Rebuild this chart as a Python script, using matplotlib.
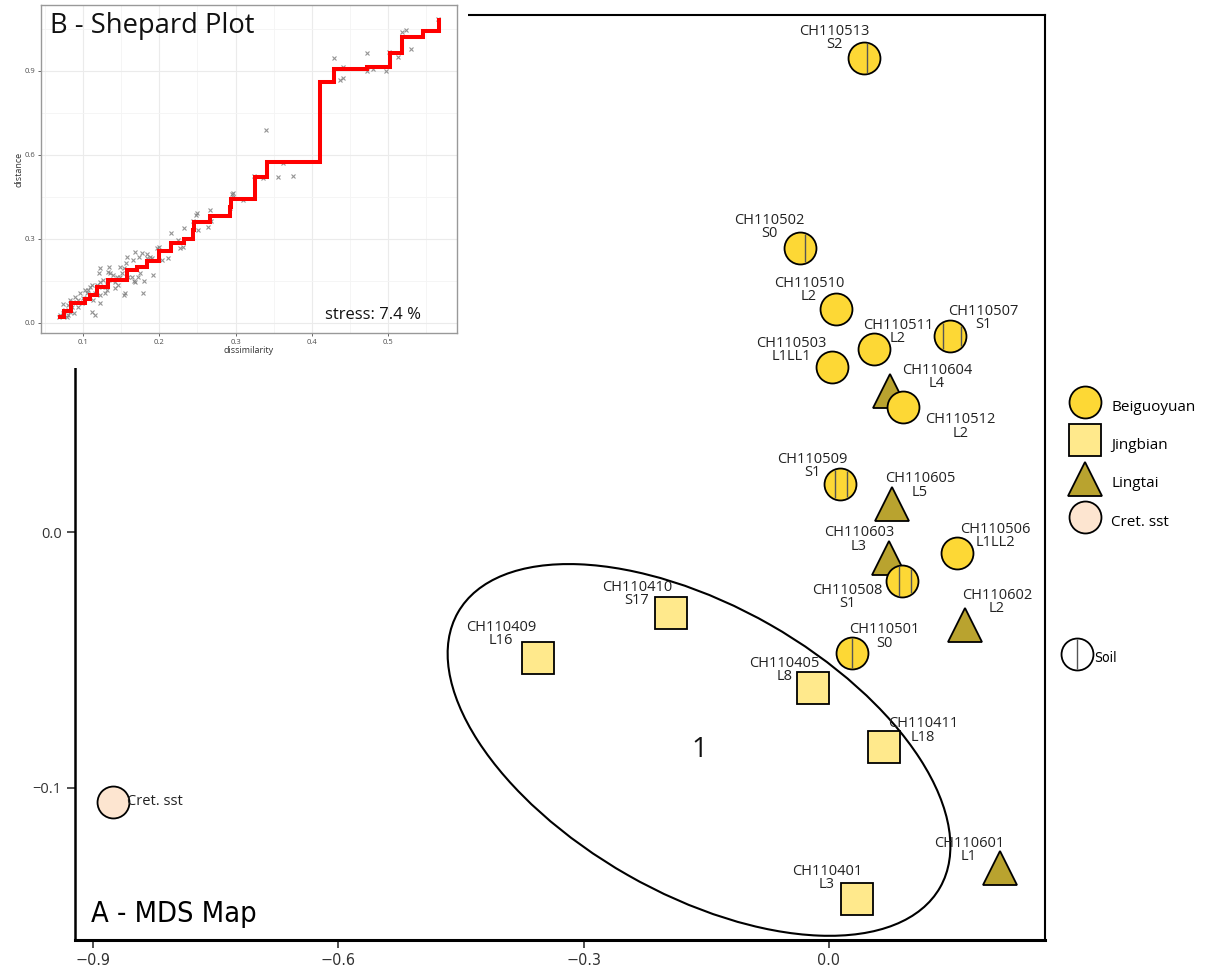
import matplotlib
matplotlib.use("Agg")
import matplotlib.pyplot as plt
from matplotlib import font_manager, transforms
from matplotlib.font_manager import FontProperties
from matplotlib.lines import Line2D
from matplotlib.patches import Ellipse, Rectangle
from matplotlib.legend_handler import HandlerTuple
import numpy as np

# ---- data: MDS map -------------------------------------------------------
sample_ids = ["CH110513", "CH110502", "CH110510", "CH110507", "CH110511", "CH110503",
              "CH110604", "CH110512", "CH110509", "CH110605", "CH110603", "CH110506",
              "CH110508", "CH110602", "CH110501", "CH110405", "CH110410", "CH110409",
              "CH110411", "CH110601", "CH110401", "Cret. sst"]
horizons = ["S2", "S0", "L2", "S1", "L2", "L1LL1",
            "L4", "L2", "S1", "L5", "L3", "L1LL2",
            "S1", "L2", "S0", "L8", "S17", "L16",
            "L18", "L1", "L3", ""]
groups = ["Beiguoyuan", "Beiguoyuan", "Beiguoyuan", "Beiguoyuan", "Beiguoyuan", "Beiguoyuan",
          "Lingtai", "Beiguoyuan", "Beiguoyuan", "Lingtai", "Lingtai", "Beiguoyuan",
          "Beiguoyuan", "Lingtai", "Beiguoyuan", "Jingbian", "Jingbian", "Jingbian",
          "Jingbian", "Lingtai", "Jingbian", "Cret. sst"]
mds1 = [0.0435, -0.035, 0.0092, 0.1488, 0.0557, 0.0039,
        0.0752, 0.0916, 0.0141, 0.0778, 0.0741, 0.157,
        0.0904, 0.1671, 0.0288, -0.0196, -0.1929, -0.356,
        0.068, 0.21, 0.0349, -0.876]
mds2 = [0.1856, 0.1113, 0.0874, 0.0769, 0.0718, 0.0646,
        0.0553, 0.0492, 0.0188, 0.0109, -0.0102, -0.0082,
        -0.019, -0.0363, -0.0474, -0.061, -0.0317, -0.0493,
        -0.0842, -0.1314, -0.1436, -0.1055]
soil = [True, True, False, True, False, False,
        False, False, True, False, False, False,
        True, False, True, False, False, False,
        False, False, False, False]

# ---- data: Shepard plot --------------------------------------------------
step_x = [0.0693, 0.075, 0.0838, 0.1022, 0.1088, 0.1175, 0.1329, 0.157, 0.170, 0.1832,
          0.1999, 0.2152, 0.2328, 0.2446, 0.2459, 0.2665, 0.2928, 0.2941, 0.3256, 0.341,
          0.4111, 0.4299, 0.4724, 0.5031, 0.5193, 0.546, 0.5679]
step_y = [0.021, 0.043, 0.069, 0.085, 0.099, 0.126, 0.152, 0.188, 0.2, 0.221,
          0.257, 0.283, 0.299, 0.33, 0.361, 0.381, 0.414, 0.442, 0.521, 0.575,
          0.861, 0.906, 0.914, 0.962, 1.021, 1.042, 1.081]
dissim = [0.430, 0.4374, 0.4409, 0.4724, 0.4724, 0.481, 0.4978, 0.5022, 0.514, 0.5184,
          0.5241, 0.5302, 0.5666, 0.4418, 0.3397, 0.3366, 0.3563, 0.362, 0.3752, 0.3248,
          0.3094, 0.2963, 0.295, 0.2972, 0.2928, 0.2665, 0.2643, 0.2678, 0.249, 0.2481,
          0.2437, 0.2511, 0.2323, 0.2148, 0.2271, 0.2306, 0.2249, 0.2117, 0.1999, 0.1964,
          0.1911, 0.2030, 0.1898, 0.1832, 0.1767, 0.1797, 0.1789, 0.1745, 0.1679, 0.1670,
          0.1657, 0.1570, 0.1561, 0.1535, 0.1482, 0.1438, 0.1504, 0.1460, 0.1548, 0.1535,
          0.1416, 0.1372, 0.1337, 0.1351, 0.1329, 0.1263, 0.1219, 0.1210, 0.1241, 0.1219,
          0.1285, 0.1307, 0.1153, 0.1110, 0.1131, 0.1219, 0.1066, 0.1044, 0.0956, 0.0934,
          0.0890, 0.0869, 0.0825, 0.0847, 0.0803, 0.0759, 0.0737, 0.0728, 0.0781, 0.0803,
          0.0877, 0.1110, 0.1153, 0.1000, 0.1022, 0.1088, 0.1175, 0.1219, 0.1394, 0.1416,
          0.1591, 0.1635, 0.1679, 0.1723, 0.1736, 0.1832, 0.1876, 0.0693, 0.0680, 0.0934,
          0.0978, 0.1044, 0.1307, 0.1482, 0.0825]
distance = [0.944, 0.867, 0.914, 0.964, 0.9, 0.905, 0.899, 0.968, 0.95, 1.039,
            1.045, 0.976, 1.083, 0.873, 0.688, 0.515, 0.521, 0.569, 0.525, 0.525,
            0.438, 0.464, 0.458, 0.45, 0.408, 0.402, 0.343, 0.364, 0.39, 0.385,
            0.364, 0.331, 0.337, 0.319, 0.265, 0.271, 0.295, 0.23, 0.271, 0.265,
            0.17, 0.224, 0.23, 0.245, 0.248, 0.149, 0.107, 0.176, 0.254, 0.15,
            0.224, 0.236, 0.212, 0.194, 0.2, 0.164, 0.176, 0.135, 0.105, 0.099,
            0.123, 0.152, 0.2, 0.176, 0.182, 0.152, 0.194, 0.176, 0.129, 0.099,
            0.105, 0.117, 0.105, 0.135, 0.081, 0.069, 0.117, 0.087, 0.105, 0.081,
            0.093, 0.075, 0.081, 0.057, 0.063, 0.045, 0.067, 0.033, 0.019, 0.027,
            0.033, 0.039, 0.027, 0.087, 0.117, 0.129, 0.135, 0.146, 0.170, 0.146,
            0.164, 0.164, 0.146, 0.164, 0.236, 0.23, 0.236, 0.027, 0.021, 0.057,
            0.069, 0.105, 0.135, 0.164, 0.039]
stress = 7.4

# ---- styles --------------------------------------------------------------
plt.rcParams["font.family"] = ["Open Sans", "DejaVu Sans"]

# look for a condensed / narrow face, else fall back to Open Sans
cond_file = None
for f in font_manager.fontManager.ttflist:
    nm = f.name.lower()
    narrowish = ("narrow" in nm or "condensed" in nm or
                 str(f.stretch) in ("condensed", "semi-condensed", "extra-condensed"))
    if narrowish and f.style == "normal" and str(f.weight) in ("400", "normal", "regular"):
        cond_file = f.fname
        break


def narrow_font(size):
    if cond_file:
        return FontProperties(fname=cond_file, size=size)
    return FontProperties(family=["Open Sans", "DejaVu Sans"], size=size)


group_style = {
    "Lingtai":    dict(marker="^", ms=24, mfc="#B9A32F"),
    "Jingbian":   dict(marker="s", ms=23, mfc="#FFE98C"),
    "Beiguoyuan": dict(marker="o", ms=23, mfc="#FDD835"),
    "Cret. sst":  dict(marker="o", ms=23, mfc="#FDE5D0"),
}
draw_order = ["Lingtai", "Jingbian", "Beiguoyuan", "Cret. sst"]
legend_order = ["Beiguoyuan", "Jingbian", "Lingtai", "Cret. sst"]

# vertical lines inside soil circles, as fraction of the radius
soil_lines = {"CH110513": [0.17], "CH110502": [0.31], "CH110507": [-0.47, 0.74],
              "CH110509": [-0.31, 0.48], "CH110508": [-0.2, 0.6], "CH110501": [0.0]}
# label offsets in pixels (dx right, dy down)
label_off = [(-30, -20), (-31, -21), (-27, -19), (33, -18), (24, -17), (-40, -17),
             (47, -14), (57, 20), (-28, -18), (28, -19), (-30, -19), (39, -17),
             (-55, 16), (32, -23), (32, -17), (-28, -18), (-34, -19), (-37, -24),
             (39, -17), (-31, -18), (-30, -21), (14, 0)]

W, H = 1208, 974
fig = plt.figure(figsize=(W / 100, H / 100), dpi=100)
ax = fig.add_axes([75 / W, 1 - 940 / H, 970 / W, 925 / H])

mds1 = np.array(mds1)
mds2 = np.array(mds2)
groups = np.array(groups)

for g in draw_order:
    m = groups == g
    st = group_style[g]
    ax.plot(mds1[m], mds2[m], ls="none", marker=st["marker"], ms=st["ms"],
            mfc=st["mfc"], mec="black", mew=1.3, zorder=3)

# soil hatching
for i, sid in enumerate(sample_ids):
    if not soil[i]:
        continue
    r = group_style[groups[i]]["ms"] / 2 - 0.6
    for f in soil_lines[sid]:
        off = transforms.ScaledTranslation(f * r / 72, 0, fig.dpi_scale_trans)
        ax.plot(mds1[i], mds2[i], marker="|", ls="none",
                ms=2 * r * np.sqrt(1 - f ** 2), mec="#555555", mew=1.0,
                transform=ax.transData + off, zorder=4)

# point labels
for i, sid in enumerate(sample_ids):
    dx, dy = label_off[i]
    if horizons[i]:
        ax.annotate(sid + "\n" + horizons[i], (mds1[i], mds2[i]), xytext=(dx, -dy),
                    textcoords="offset pixels", ha="center", va="center",
                    multialignment="center", linespacing=0.85, fontsize=10.5,
                    color="#222222", zorder=5)
    else:
        ax.annotate(sid, (mds1[i], mds2[i]), xytext=(dx, -dy),
                    textcoords="offset pixels", ha="left", va="center",
                    fontsize=10.5, color="#222222", zorder=5)

# cluster ellipse
ex, ey = -0.1586, -0.0852
etrans = fig.dpi_scale_trans + transforms.ScaledTranslation(ex, ey, ax.transData)
ax.add_patch(Ellipse((0, 0), 5.55, 2.88, angle=-29.7, transform=etrans,
                     fill=False, ec="black", lw=1.5, zorder=2))
ax.text(ex, ey, "1", ha="center", va="center", fontsize=20, color="#111111")

title_a = ax.text(0.0165, 0.0195, "A - MDS Map", transform=ax.transAxes,
                  fontproperties=narrow_font(24), va="baseline", ha="left")

ax.set_xlim(-0.9226, 0.265)
ax.set_ylim(-0.1596, 0.2025)
ax.set_xticks([-0.9, -0.6, -0.3, 0.0])
ax.set_yticks([0.1, 0.0, -0.1])
ax.set_xticklabels(["\u22120.9", "\u22120.6", "\u22120.3", "0.0"],
                   fontproperties=narrow_font(11.5 if cond_file else 10.5))
ax.set_yticklabels(["0.1", "0.0", "\u22120.1"], fontsize=10.5)
ax.tick_params(length=6, width=1.2, colors="#333333", labelcolor="#333333")
for s in ax.spines.values():
    s.set_linewidth(1.5)
ax.spines["bottom"].set_linewidth(2.2)
ax.spines["left"].set_linewidth(1.8)

# legends
handles = [Line2D([], [], ls="none", marker=group_style[g]["marker"],
                  ms=group_style[g]["ms"], mfc=group_style[g]["mfc"],
                  mec="black", mew=1.3) for g in legend_order]
leg1 = ax.legend(handles, legend_order, loc="upper left",
                 bbox_to_anchor=(1.0258, 0.591), borderaxespad=0, borderpad=0,
                 frameon=False, fontsize=11, handlelength=2.0, handleheight=2.2,
                 labelspacing=0.83, handletextpad=0.7)
ax.add_artist(leg1)
soil_h = (Line2D([], [], ls="none", marker="o", ms=23, mfc="white", mec="black", mew=1.3),
          Line2D([], [], ls="none", marker="|", ms=21, mec="#555555", mew=1.0))
ax.legend([soil_h], ["Soil"], handler_map={tuple: HandlerTuple(ndivide=1)},
          loc="upper left", bbox_to_anchor=(1.0216, 0.318), borderaxespad=0,
          borderpad=0, frameon=False, handlelength=1.6, handleheight=2.2,
          handletextpad=0.45, prop=narrow_font(10))

# cover top-left corner for the inset
fig.add_artist(Rectangle((0, 1 - 368 / H), 468 / W, 368 / H, transform=fig.transFigure,
                         fc="white", ec="none", zorder=5))

# ---- inset: Shepard plot -------------------------------------------------
ins = fig.add_axes([41 / W, 1 - 333 / H, 416 / W, 328 / H])
ins.set_zorder(10)
ins.set_facecolor("white")
ins.plot(dissim, distance, ls="none", marker="x", ms=2.6, mew=0.8, color="#7a7a7a",
         alpha=0.8, zorder=3)
ins.step(step_x, step_y, where="post", color="#FF0000", lw=2.9,
         solid_joinstyle="miter", zorder=4)
ins.set_xlim(0.0444, 0.591)
ins.set_ylim(-0.0369, 1.1346)
ins.set_xticks([0.1, 0.2, 0.3, 0.4, 0.5])
ins.set_yticks([0.0, 0.3, 0.6, 0.9])
ins.set_xticks([0.05, 0.15, 0.25, 0.35, 0.45, 0.55], minor=True)
ins.set_yticks([0.15, 0.45, 0.75, 1.05], minor=True)
ins.grid(True, which="major", color="#EBEBEB", lw=0.8)
ins.grid(True, which="minor", color="#F4F4F4", lw=0.6)
ins.set_axisbelow(True)
ins.tick_params(which="major", length=2.5, width=0.6, colors="#4D4D4D",
                labelsize=5.5, pad=1.5)
ins.tick_params(which="minor", length=0)
for s in ins.spines.values():
    s.set_color("#999999")
    s.set_linewidth(1.0)
ins.set_xlabel("dissimilarity", fontsize=6.5, color="#333333", labelpad=0.5)
ins.set_ylabel("distance", fontsize=6.5, color="#333333", labelpad=1)
title_b = ins.text(0.022, 0.915, "B - Shepard Plot", transform=ins.transAxes,
                   fontsize=21, va="baseline", ha="left", color="#111111")
ins.text(0.683, 0.043, "stress: %.1f %%" % stress, transform=ins.transAxes,
         fontsize=12, va="baseline", ha="left", color="#111111")

# fit the two panel titles to the width they have in the original
fig.canvas.draw()
for t, target in ((title_a, 166), (title_b, 205)):
    w = t.get_window_extent().width
    t.set_fontsize(t.get_fontsize() * target / w)

fig.savefig("out.png", dpi=100)
